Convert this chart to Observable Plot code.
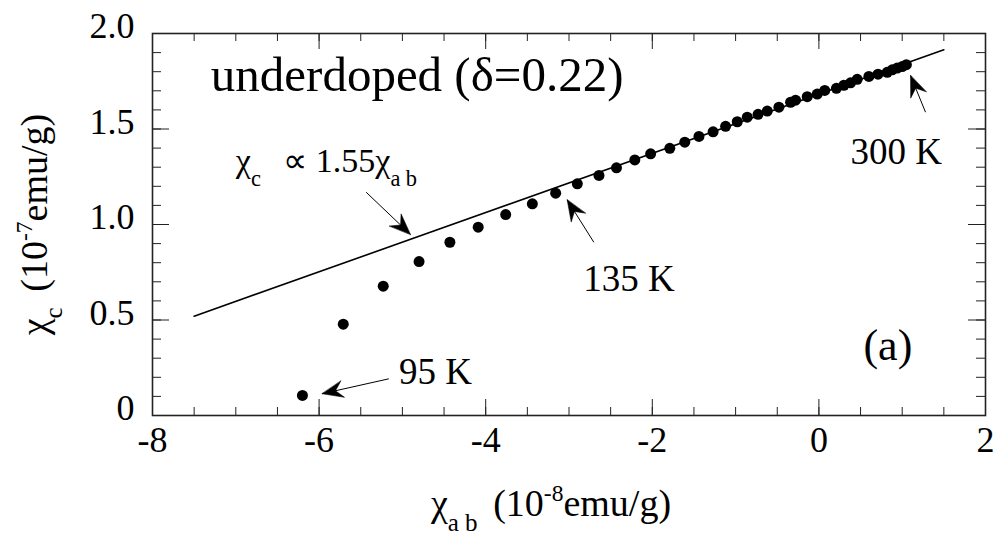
<!DOCTYPE html>
<html><head><meta charset="utf-8">
<script src="https://cdn.jsdelivr.net/npm/d3@7"></script>
<script src="https://cdn.jsdelivr.net/npm/@observablehq/plot@0.6"></script>
<style>
body{margin:0;background:#fff}
#chart svg{font-family:"Liberation Serif","Times New Roman",serif;overflow:visible}
</style>
</head><body><div id="chart"></div>
<script>
// ---- data ----
const chiAB = [-6.20,-5.71,-5.23,-4.80,-4.43,-4.09,-3.76,-3.44,-3.16,-2.90,-2.64,-2.43,-2.21,-2.02,-1.79,-1.61,-1.44,-1.27,-1.12,-0.98,-0.86,-0.73,-0.62,-0.48,-0.34,-0.28,-0.14,-0.02,0.07,0.21,0.30,0.38,0.46,0.60,0.71,0.82,0.88,0.94,1.00,1.05];
const chiC  = [0.105,0.478,0.677,0.806,0.907,0.986,1.052,1.108,1.164,1.213,1.257,1.297,1.338,1.370,1.399,1.431,1.461,1.485,1.514,1.538,1.562,1.577,1.594,1.614,1.640,1.651,1.669,1.683,1.702,1.713,1.729,1.742,1.760,1.775,1.787,1.797,1.810,1.819,1.827,1.837];
const fitChiAB = [-7.5, 1.5];
const fitChiC  = [0.52, 1.915];

const xMajorTicks = [-8,-6,-4,-2,0,2];
const xTickLabels = ["-8","-6","-4","-2","0","2"];
const xMinorTicks = [-8,-7.5,-7,-6.5,-6,-5.5,-5,-4.5,-4,-3.5,-3,-2.5,-2,-1.5,-1,-0.5,0,0.5,1,1.5,2];
const yMajorTicks = [0,0.5,1,1.5,2];
const yTickLabels = ["0","0.5","1.0","1.5","2.0"];
const yMinorTicks = [0,0.1,0.2,0.3,0.4,0.5,0.6,0.7,0.8,0.9,1,1.1,1.2,1.3,1.4,1.5,1.6,1.7,1.8,1.9,2];

const xTitle = "χ_{ab} (10^{-8}emu/g)";
const yTitle = "χ_{c} (10^{-7}emu/g)";

// annotations (data coordinates of text start / baseline)
const noteText = ["underdoped (δ=0.22)", "χ_{c}\u2002∝ 1.55χ_{ab}", "135 K", "300 K", "95 K", "(a)"];
const noteX    = [-7.30, -7.00, -2.83, 0.38, -5.04, 0.535];
const noteY    = [1.70, 1.274, 0.654, 1.319, 0.166, 0.288];
const noteSize = [49, 34, 37, 37, 37, 44];

// arrows: tail -> tip
const arrowX1 = [-5.435, -2.702, 1.280, -5.163];
const arrowY1 = [1.169, 0.907, 1.588, 0.192];
const arrowX2 = [-4.903, -3.022, 1.100, -5.963];
const arrowY2 = [0.948, 1.129, 1.780, 0.114];

// ---- layout ----
const W = 996, H = 536, mL = 152, mR = 11, mT = 33, mB = 121;
const FW = W - mL - mR, FH = H - mT - mB;
const xDom = [-8, 2], yDom = [0, 2];
const kx = FW / (xDom[1] - xDom[0]), ky = FH / (yDom[1] - yDom[0]);

const points = chiAB.map((x, i) => ({x, y: chiC[i]}));
const fit = fitChiAB.map((x, i) => ({x, y: fitChiC[i]}));
const notes = noteText.map((t, i) => ({t, x: noteX[i], y: noteY[i], s: noteSize[i]}));
const arrows = arrowX1.map((x1, i) => {
  const x2 = arrowX2[i], y1 = arrowY1[i], y2 = arrowY2[i];
  const dx = (x2 - x1) * kx, dy = -(y2 - y1) * ky;
  return {x1, y1, x2, y2, rot: Math.atan2(dx, -dy) * 180 / Math.PI};
});

const headShape = {
  draw(ctx, l) {
    const w = l * 0.4;
    ctx.moveTo(0, -l);
    ctx.lineTo(-w, 0);
    ctx.lineTo(0, -l * 0.35);
    ctx.lineTo(w, 0);
    ctx.closePath();
  }
};

const plot = Plot.plot({
  width: W, height: H,
  marginLeft: mL, marginRight: mR, marginTop: mT, marginBottom: mB,
  x: {domain: xDom, axis: null},
  y: {domain: yDom, axis: null},
  style: {background: "#fff", color: "#000", fontFamily: "Liberation Serif, Times New Roman, serif"},
  marks: [
    // ticks (inward) on all four sides
    Plot.tickX(xMinorTicks, {insetTop: FH - 8, stroke: "#222"}),
    Plot.tickX(xMajorTicks, {insetTop: FH - 16, stroke: "#222"}),
    Plot.tickX(xMinorTicks, {insetBottom: FH - 8, stroke: "#222"}),
    Plot.tickX(xMajorTicks, {insetBottom: FH - 16, stroke: "#222"}),
    Plot.tickY(yMinorTicks, {insetRight: FW - 9, stroke: "#222"}),
    Plot.tickY(yMajorTicks, {insetRight: FW - 17, stroke: "#222"}),
    Plot.tickY(yMinorTicks, {insetLeft: FW - 9, stroke: "#222"}),
    Plot.tickY(yMajorTicks, {insetLeft: FW - 17, stroke: "#222"}),
    Plot.frame({stroke: "#222", strokeWidth: 1.6}),
    // tick labels
    Plot.text(xMajorTicks, {x: d => d, text: (d, i) => xTickLabels[i], frameAnchor: "bottom", textAnchor: "middle", dy: 36, fontSize: 36}),
    Plot.text(yMajorTicks, {y: d => d, text: (d, i) => yTickLabels[i], frameAnchor: "left", textAnchor: "end", dx: -18, dy: -7, fontSize: 36}),
    // axis titles
    Plot.text([xTitle], {frameAnchor: "bottom", textAnchor: "middle", lineAnchor: "bottom", dx: -18, dy: 100, fontSize: 38}),
    Plot.text([yTitle], {frameAnchor: "left", textAnchor: "middle", lineAnchor: "bottom", rotate: -90, dx: -106, dy: 0, fontSize: 38}),
    // fit line
    Plot.line(fit, {x: "x", y: "y", stroke: "#000", strokeWidth: 1.6}),
    // data
    Plot.dot(points, {x: "x", y: "y", r: 5.5, fill: "#000", stroke: null}),
    // arrows
    Plot.link(arrows, {x1: "x1", y1: "y1", x2: "x2", y2: "y2", stroke: "#000", strokeWidth: 1}),
    Plot.vector(arrows, {x: "x2", y: "y2", rotate: "rot", length: 21, anchor: "end", shape: headShape, fill: "#000", stroke: "#000", strokeWidth: 0.5}),
    // annotations
    Plot.text(notes, {x: "x", y: "y", text: "t", textAnchor: "start", lineAnchor: "bottom", fontSize: d => d.s})
  ]
});

// rich text: _{sub} and ^{sup}
function richText(svg) {
  d3.select(svg).selectAll("text").each(function () {
    const el = this;
    const s = el.textContent;
    if (!/[_^]\{/.test(s)) return;
    const fs = parseFloat(getComputedStyle(el).fontSize) || 32;
    el.textContent = "";
    const re = /([_^])\{([^}]*)\}|([^_^]+)/g;
    let m, shift = 0;
    while ((m = re.exec(s))) {
      const ts = document.createElementNS("http://www.w3.org/2000/svg", "tspan");
      if (m[1]) {
        const sub = m[1] === "_";
        const target = sub ? fs * 0.42 : -fs * 0.38;
        ts.setAttribute("dy", target - shift);
        shift = target;
        ts.setAttribute("font-size", fs * (sub ? 0.66 : 0.62));
        if (sub) ts.setAttribute("letter-spacing", fs * 0.16);
        ts.textContent = m[2];
      } else {
        if (shift) ts.setAttribute("dy", -shift);
        shift = 0;
        ts.textContent = m[3];
      }
      el.appendChild(ts);
    }
  });
}
document.getElementById("chart").appendChild(plot);
richText(plot);
</script>
</body></html>
